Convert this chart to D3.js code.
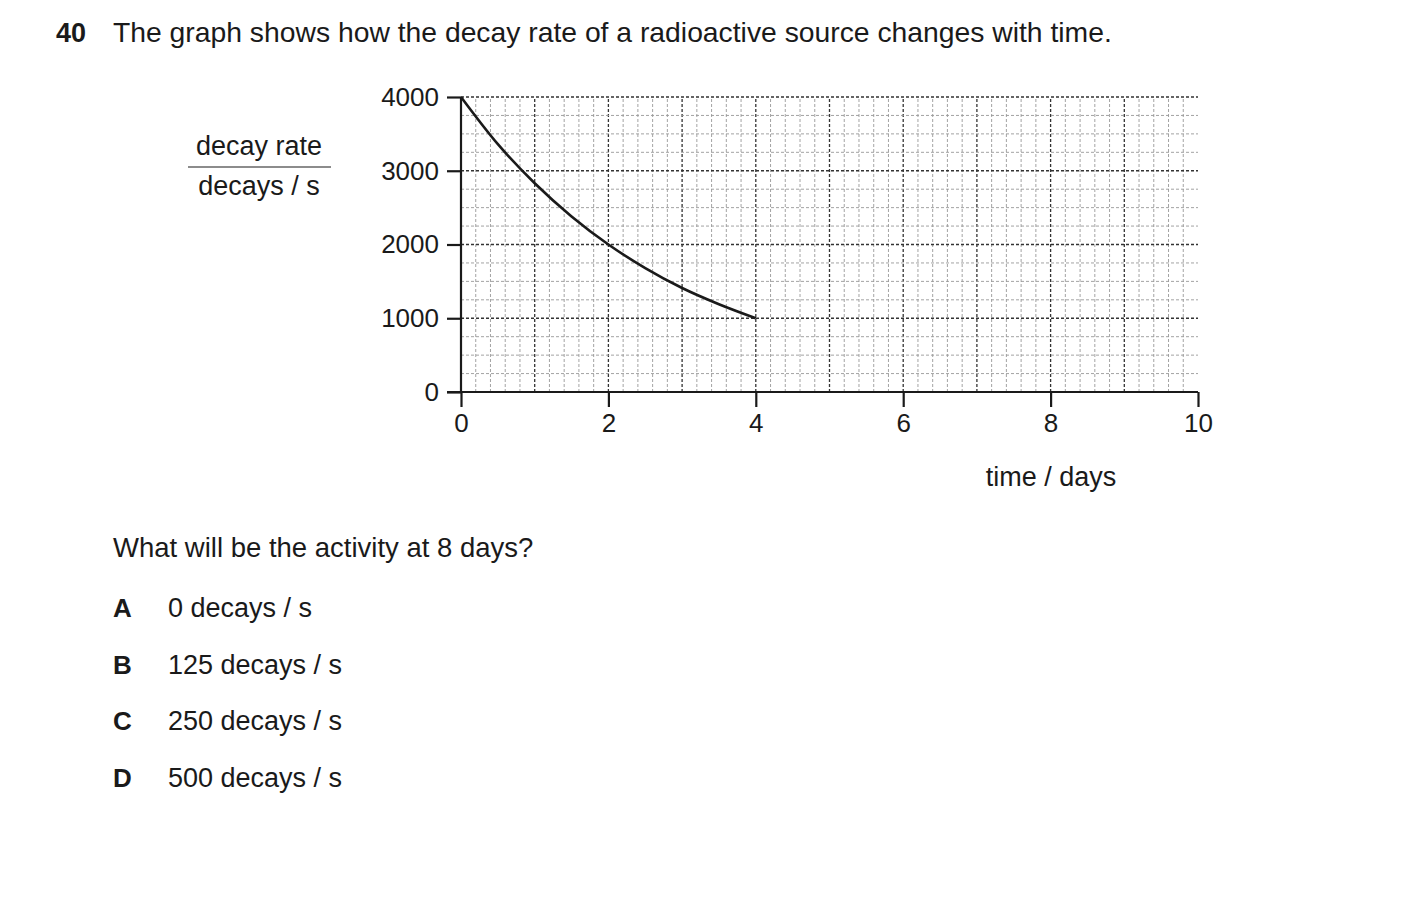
<!DOCTYPE html>
<html><head><meta charset="utf-8">
<script src="https://cdn.jsdelivr.net/npm/d3@7"></script>
<style>body{margin:0;background:#fff}text{font-family:"Liberation Sans",Arial,sans-serif;fill:#1a1a1a}</style>
</head><body>
<svg id="c" width="1403" height="918"></svg>
<script>
const timeDays=[0,0.5,1,1.5,2,2.5,3,3.5,4];
const decayRate=[4000,3360,2830,2380,2000,1680,1410,1190,1000];
const xTicks=[0,2,4,6,8,10];
const yTicks=[0,1000,2000,3000,4000];
const options=[["A","0 decays\u2009/\u2009s"],["B","125 decays\u2009/\u2009s"],["C","250 decays\u2009/\u2009s"],["D","500 decays\u2009/\u2009s"]];

const svg=d3.select("#c");
const x=d3.scaleLinear().domain([0,10]).range([461,1198]);
const y=d3.scaleLinear().domain([0,4000]).range([392,97]);
const g=svg.append("g");
d3.range(1,50).forEach(i=>{const v=i*0.2;const major=Math.abs(v-Math.round(v))<1e-6;
 g.append("line").attr("x1",x(v)).attr("x2",x(v)).attr("y1",y(0)).attr("y2",y(4000))
 .attr("stroke",major?"#333":"#999").attr("stroke-width",major?1.3:0.9).attr("stroke-dasharray","3,2");});
d3.range(1,17).forEach(i=>{const v=i*250;const major=v%1000===0;
 g.append("line").attr("x1",x(0)).attr("x2",x(10)).attr("y1",y(v)).attr("y2",y(v))
 .attr("stroke",major?"#333":"#999").attr("stroke-width",major?1.3:0.9).attr("stroke-dasharray","3,2");});
const ya=svg.append("g").attr("transform",`translate(${x(0)},0)`).call(d3.axisLeft(y).tickValues(yTicks).tickFormat(d3.format("d")).tickSize(14).tickPadding(8));
const xa=svg.append("g").attr("transform",`translate(0,${y(0)})`).call(d3.axisBottom(x).tickValues(xTicks).tickFormat(d3.format("d")).tickSize(15).tickPadding(7));
[ya,xa].forEach(a=>{a.select(".domain").remove();a.selectAll("line").attr("stroke","#1a1a1a").attr("stroke-width",2.2);
 a.selectAll("text").style("font-size","26px").style("font-family","Liberation Sans, Arial").attr("fill","#1a1a1a");});
svg.append("line").attr("x1",447).attr("x2",x(10)).attr("y1",y(0)).attr("y2",y(0)).attr("stroke","#1a1a1a").attr("stroke-width",2.2);
svg.append("line").attr("x1",x(0)).attr("x2",x(0)).attr("y1",y(0)+1).attr("y2",y(4000)).attr("stroke","#1a1a1a").attr("stroke-width",2.2);
svg.append("path").datum(timeDays.map((t,i)=>[t,decayRate[i]]))
 .attr("d",d3.line().x(d=>x(d[0])).y(d=>y(d[1])).curve(d3.curveMonotoneX))
 .attr("fill","none").attr("stroke","#1a1a1a").attr("stroke-width",2.6);
svg.append("text").attr("x",56).attr("y",42).style("font-size","27px").style("font-weight","bold").text("40");
svg.append("text").attr("x",113).attr("y",42).style("font-size","28.3px").text("The graph shows how the decay rate of a radioactive source changes with time.");
svg.append("text").attr("x",259).attr("y",155).attr("text-anchor","middle").style("font-size","27px").text("decay rate");
svg.append("line").attr("x1",188).attr("x2",331).attr("y1",167).attr("y2",167).attr("stroke","#1a1a1a").attr("stroke-width",1.2);
svg.append("text").attr("x",259).attr("y",195).attr("text-anchor","middle").style("font-size","27px").text("decays / s");
svg.append("text").attr("x",1051).attr("y",486).attr("text-anchor","middle").style("font-size","27px").text("time / days");
svg.append("text").attr("x",113).attr("y",557).style("font-size","27.5px").text("What will be the activity at 8 days?");
options.forEach((o,i)=>{const yy=617+i*56.5;
 svg.append("text").attr("x",113).attr("y",yy).style("font-size","26px").style("font-weight","bold").text(o[0]);
 svg.append("text").attr("x",168).attr("y",yy).style("font-size","27px").text(o[1].replace(/\u2009/g," "));});
</script></body></html>
